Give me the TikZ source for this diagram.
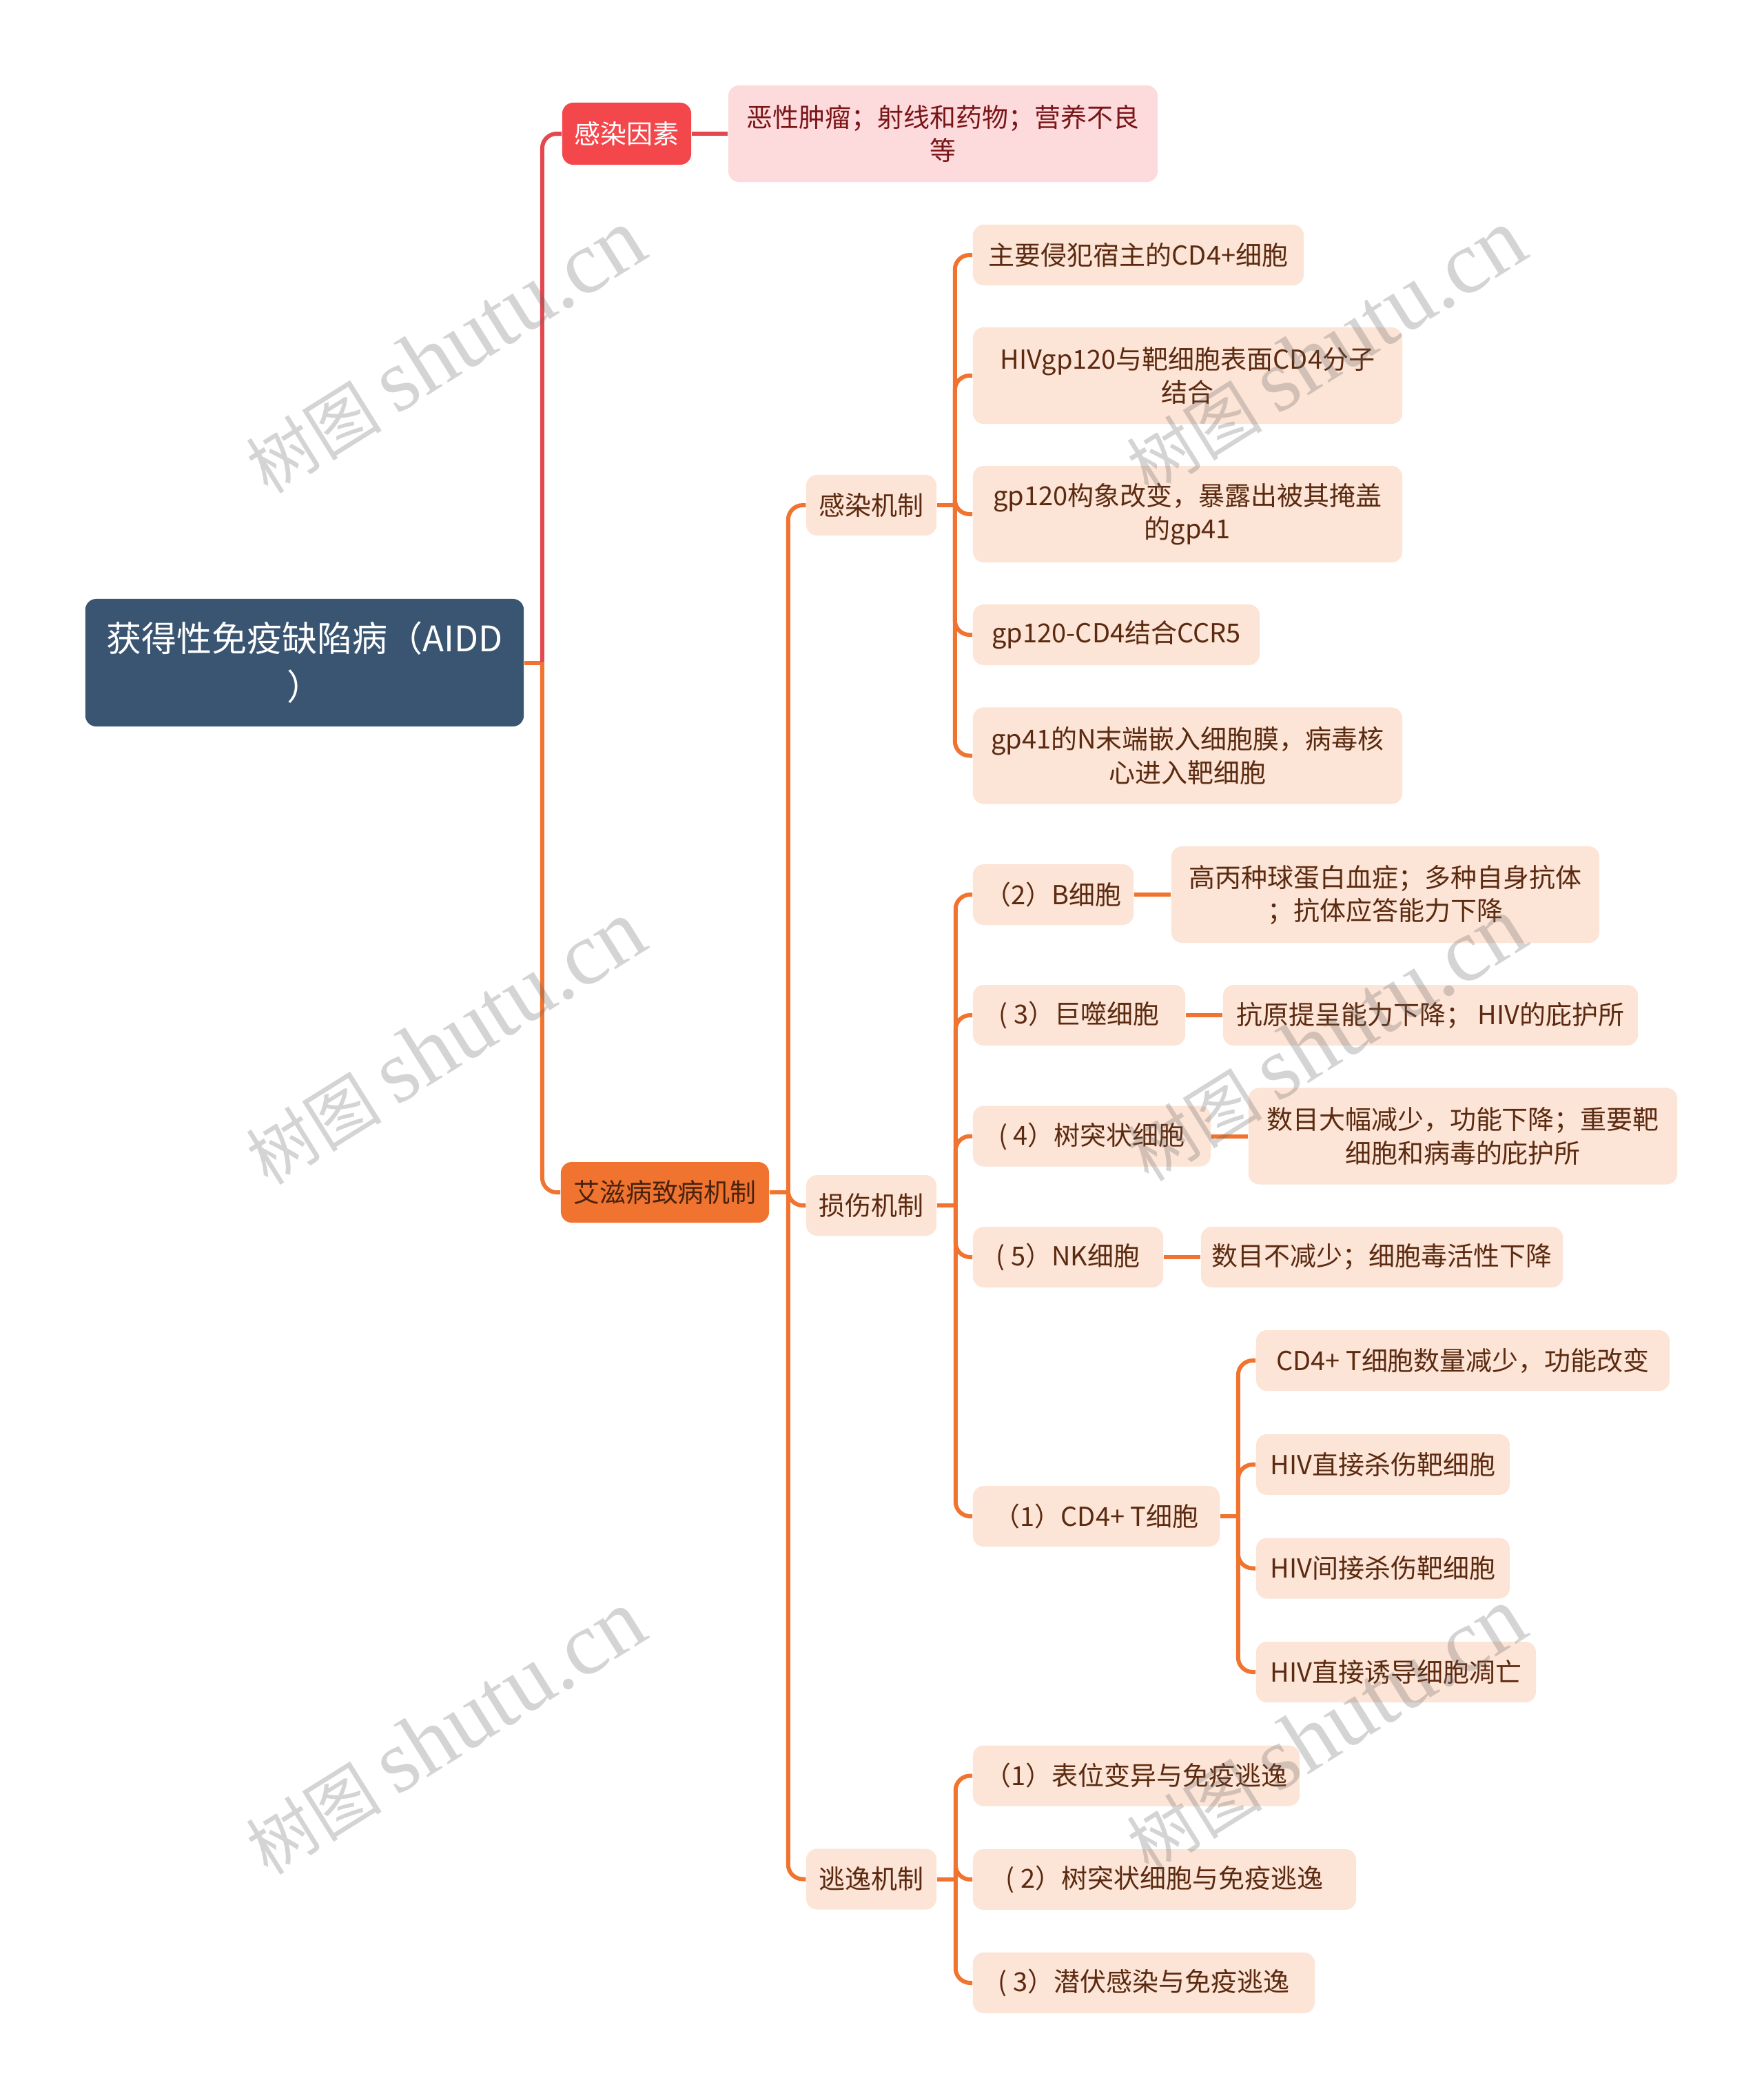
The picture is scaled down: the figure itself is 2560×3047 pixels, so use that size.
\documentclass[tikz,border=0pt]{standalone}
\usepackage{fontspec}
\setmainfont{Noto Sans CJK SC}
\newfontfamily\markfont{Liberation Serif}
\usetikzlibrary{positioning}
\definecolor{rootblue}{HTML}{3A5572}
\definecolor{causered}{HTML}{F4474C}
\definecolor{causepink}{HTML}{FDDADB}
\definecolor{causeink}{HTML}{7A1518}
\definecolor{redline}{HTML}{E5474F}
\definecolor{mainorange}{HTML}{F07430}
\definecolor{peach}{HTML}{FCE4D6}
\definecolor{brownink}{HTML}{5B2A10}
\begin{document}
\begin{tikzpicture}[
  x=0.01cm, y=-0.01cm,
  card/.style={rectangle, rounded corners=4.5pt, inner sep=0pt, align=center, font=\fontsize{10.8pt}{13.7pt}\selectfont},
  leaf/.style={card, fill=peach, text=brownink, minimum height=0.88cm},
  tall/.style={leaf, minimum height=1.4cm},
  link/.style={draw=mainorange, line width=1.7pt, rounded corners=6pt},
  redlink/.style={link, draw=redline},
  wm/.style={text=black!60, text opacity=0.28, rotate=32, inner sep=0pt, font=\fontsize{28pt}{28pt}\selectfont},
]
  \useasboundingbox (0,0) rectangle (2560,3047);

  % root and first level
  \node[card, fill=rootblue, text=white, minimum width=6.36cm, minimum height=1.85cm,
        font=\fontsize{14.5pt}{19.9pt}\selectfont] (root) at (442,961.5) {获得性免疫缺陷病（AIDD\\）};
  \node[card, fill=causered, text=white, minimum width=1.87cm, minimum height=0.9cm] (cause) at (909.5,194) {感染因素};
  \node[card, fill=causepink, text=causeink, minimum width=6.23cm, minimum height=1.4cm] (causex) at (1368.5,194) {恶性肿瘤；射线和药物；营养不良\\等};
  \node[card, fill=mainorange, text=brownink!80!black, minimum width=3.02cm, minimum height=0.88cm] (patho) at (965,1730) {艾滋病致病机制};

  % second level
  \node[leaf, minimum width=1.89cm] (inf) at (1264.5,733) {感染机制};
  \node[leaf, minimum width=1.89cm] (dmg) at (1264.5,1749) {损伤机制};
  \node[leaf, minimum width=1.89cm] (esc) at (1264.5,2726.5) {逃逸机制};

  % infection
  \node[leaf, minimum width=4.8cm] (i1) at (1652,370) {主要侵犯宿主的CD4+细胞};
  \node[tall, minimum width=6.23cm] (i2) at (1723.5,545) {HIVgp120与靶细胞表面CD4分子\\结合};
  \node[tall, minimum width=6.23cm] (i3) at (1723.5,746) {gp120构象改变，暴露出被其掩盖\\的gp41};
  \node[leaf, minimum width=4.16cm] (i4) at (1620,921) {gp120-CD4结合CCR5};
  \node[tall, minimum width=6.23cm] (i5) at (1723.5,1096.5) {gp41的N末端嵌入细胞膜，病毒核\\心进入靶细胞};

  % damage
  \node[leaf, minimum width=2.33cm] (d2) at (1528.5,1298) {（2）B细胞};
  \node[tall, minimum width=6.21cm] (x2) at (2010.5,1298) {高丙种球蛋白血症；多种自身抗体\\；抗体应答能力下降};
  \node[leaf, minimum width=3.08cm] (d3) at (1566,1473) {( 3）巨噬细胞};
  \node[leaf, minimum width=6.02cm] (x3) at (2076,1473) {抗原提呈能力下降； HIV的庇护所};
  \node[leaf, minimum width=3.45cm] (d4) at (1584.5,1648.5) {( 4）树突状细胞};
  \node[tall, minimum width=6.22cm] (x4) at (2123,1648.5) {数目大幅减少，功能下降；重要靶\\细胞和病毒的庇护所};
  \node[leaf, minimum width=2.76cm] (d5) at (1550,1824) {( 5）NK细胞};
  \node[leaf, minimum width=5.25cm] (x5) at (2005.5,1824) {数目不减少；细胞毒活性下降};
  \node[leaf, minimum width=3.58cm] (d1) at (1591,2200) {（1）CD4+ T细胞};

  \node[leaf, minimum width=6.0cm] (t1) at (2123,1974) {CD4+ T细胞数量减少，功能改变};
  \node[leaf, minimum width=3.68cm] (t2) at (2007,2125) {HIV直接杀伤靶细胞};
  \node[leaf, minimum width=3.68cm] (t3) at (2007,2275.5) {HIV间接杀伤靶细胞};
  \node[leaf, minimum width=4.06cm] (t4) at (2026,2426) {HIV直接诱导细胞凋亡};

  % escape
  \node[leaf, minimum width=4.74cm] (e1) at (1649,2576.5) {（1）表位变异与免疫逃逸};
  \node[leaf, minimum width=5.56cm] (e2) at (1690,2727) {( 2）树突状细胞与免疫逃逸};
  \node[leaf, minimum width=4.96cm] (e3) at (1660,2877) {( 3）潜伏感染与免疫逃逸};

  % connectors
  \coordinate (r0) at ([xshift=0.26cm]root.east);
  \draw[link] (root.east) -- (r0);
  \draw[redlink] (r0) |- (cause.west);
  \draw[link] (r0) |- (patho.west);
  \draw[redlink] (cause.east) -- (causex.west);

  \coordinate (p0) at ([xshift=0.27cm]patho.east);
  \draw[link] (patho.east) -- (p0);
  \foreach \n in {inf,dmg,esc}
    \draw[link] (p0) |- (\n.west);

  \coordinate (i0) at ([xshift=0.26cm]inf.east);
  \draw[link] (inf.east) -- (i0);
  \foreach \n in {1,...,5}
    \draw[link] (i0) |- (i\n.west);

  \coordinate (d0) at ([xshift=0.27cm]dmg.east);
  \draw[link] (dmg.east) -- (d0);
  \foreach \n in {1,...,5}
    \draw[link] (d0) |- (d\n.west);
  \foreach \n in {2,...,5}
    \draw[link] (d\n.east) -- (x\n.west);

  \coordinate (t0) at ([xshift=0.26cm]d1.east);
  \draw[link] (d1.east) -- (t0);
  \foreach \n in {1,...,4}
    \draw[link] (t0) |- (t\n.west);

  \coordinate (s0) at ([xshift=0.27cm]esc.east);
  \draw[link] (esc.east) -- (s0);
  \foreach \n in {1,2,3}
    \draw[link] (s0) |- (e\n.west);

  % watermarks
  \foreach \wx/\wy [count=\k] in {646/510, 646/1513, 646/2514, 1924/510, 1924/1508, 1924/2510}
    \node[wm] (w\k) at (\wx,\wy) {树图 {\markfont\fontsize{37pt}{37pt}\selectfont shutu.cn}};
\end{tikzpicture}
\end{document}
